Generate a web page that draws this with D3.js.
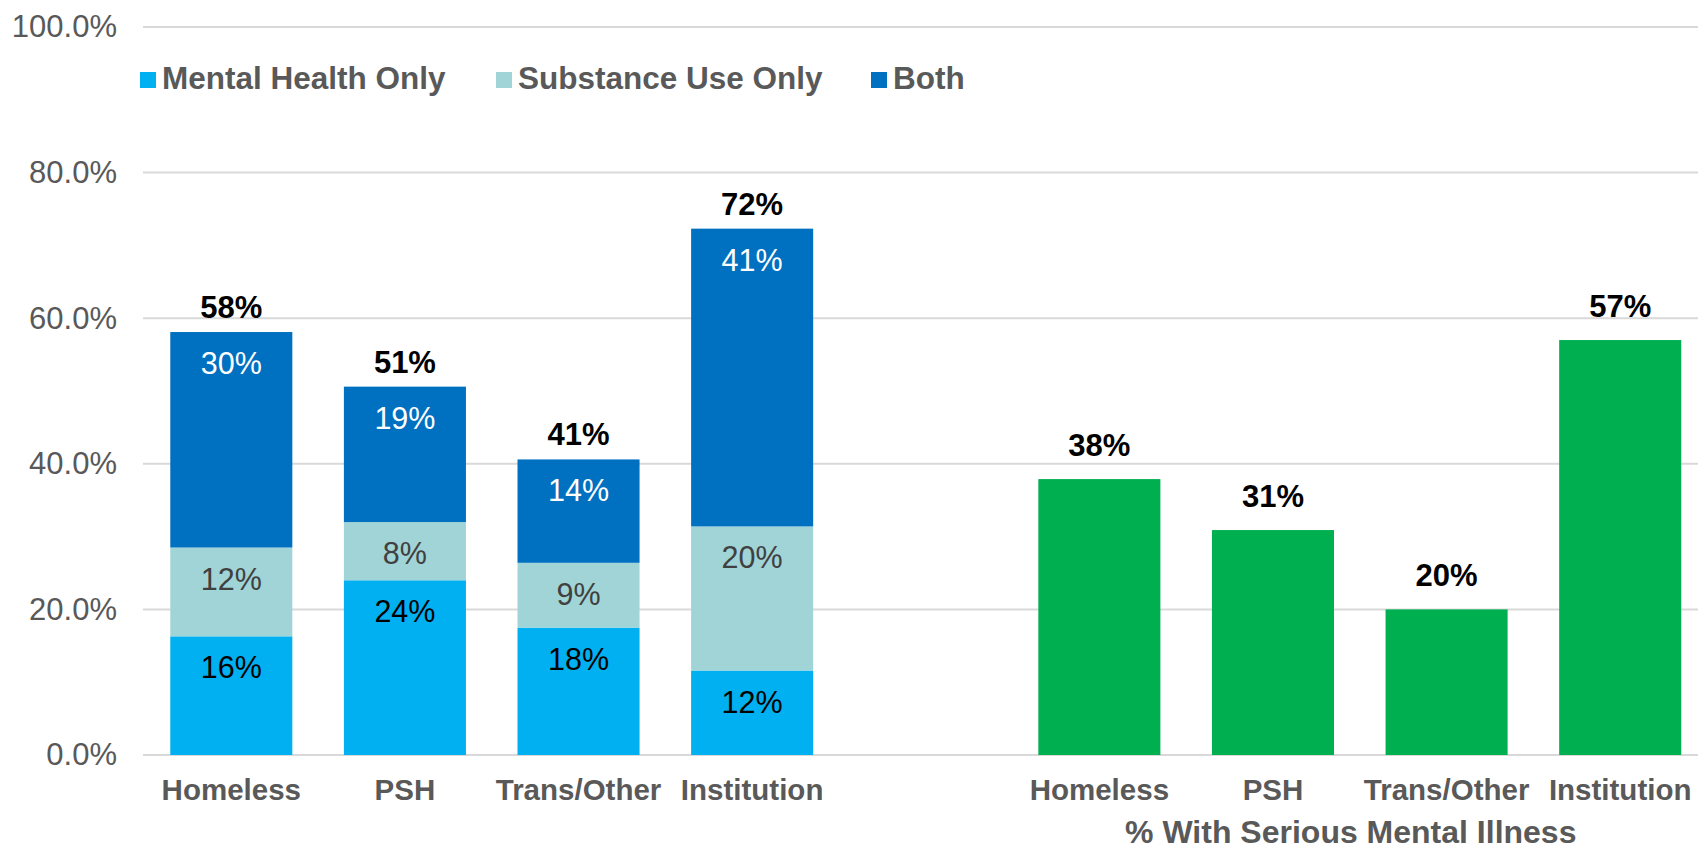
<!DOCTYPE html>
<html>
<head>
<meta charset="utf-8">
<script src="https://cdn.jsdelivr.net/npm/d3@7"></script>
<style>
  html, body { margin: 0; padding: 0; background: #fff; }
  svg { display: block; font-family: "Liberation Sans", Arial, sans-serif; }
</style>
</head>
<body>
<svg id="chart" width="1698" height="851"></svg>
<script>
// ---- Data ----
const categories = ["Homeless", "PSH", "Trans/Other", "Institution"];
const mentalHealthOnly = [0.163, 0.240, 0.175, 0.116];
const substanceUseOnly = [0.122, 0.080, 0.089, 0.198];
const both = [0.296, 0.186, 0.142, 0.409];
const seriousMentalIllness = [0.379, 0.309, 0.200, 0.570];
const seriesNames = ["Mental Health Only", "Substance Use Only", "Both"];
const yTicks = [0, 0.2, 0.4, 0.6, 0.8, 1.0];
const smiTitle = "% With Serious Mental Illness";

// ---- Setup ----
const svg = d3.select("#chart");
const W = 1698, H = 851;
const colors = { mh: "#00B0F0", su: "#A0D4D7", both: "#0070C0", smi: "#00B050" };
const labelColors = ["#000000", "#404040", "#FFFFFF"];

const slots = [...categories.map(c => "L_" + c), "gap", ...categories.map(c => "R_" + c)];
const x = d3.scaleBand().domain(slots).range([144.5, 1707]).paddingInner(0.297).paddingOuter(0.1485);
const y = d3.scaleLinear().domain([0, 1]).range([755, 27]);

// gridlines
svg.append("g").selectAll("line").data(yTicks).join("line")
  .attr("x1", 143).attr("x2", W)
  .attr("y1", d => y(d)).attr("y2", d => y(d))
  .attr("stroke", "#D9D9D9").attr("stroke-width", 2);

// y axis labels
const yAxis = d3.axisLeft(y).tickValues(yTicks).tickFormat(d3.format(".1%")).tickSize(0).tickPadding(0);
const yg = svg.append("g").attr("transform", "translate(117,0)").call(yAxis);
yg.select(".domain").remove();
yg.selectAll("text").attr("font-size", 31).attr("fill", "#595959")
  .attr("font-family", "'Liberation Sans', Arial, sans-serif");

// stacked data
const stackRows = categories.map((c, i) => ({ cat: c, mh: mentalHealthOnly[i], su: substanceUseOnly[i], both: both[i] }));
const stack = d3.stack().keys(["mh", "su", "both"]);
const stacked = stack(stackRows);

const gStack = svg.append("g");
stacked.forEach((layer, li) => {
  gStack.append("g").selectAll("rect").data(layer).join("rect")
    .attr("x", d => x("L_" + d.data.cat))
    .attr("width", x.bandwidth())
    .attr("y", d => y(d[1]))
    .attr("height", d => y(d[0]) - y(d[1]))
    .attr("fill", colors[layer.key]);
  gStack.append("g").selectAll("text").data(layer).join("text")
    .attr("x", d => x("L_" + d.data.cat) + x.bandwidth() / 2)
    .attr("y", d => y(d[1]) + 42)
    .attr("text-anchor", "middle")
    .attr("font-size", 30.5)
    .attr("fill", labelColors[li])
    .text(d => d3.format(".0%")(d[1] - d[0]));
});

// totals
svg.append("g").selectAll("text").data(stackRows).join("text")
  .attr("x", d => x("L_" + d.cat) + x.bandwidth() / 2)
  .attr("y", d => y(d.mh + d.su + d.both) - 14)
  .attr("text-anchor", "middle")
  .attr("font-size", 31).attr("font-weight", "bold").attr("fill", "#000")
  .text(d => d3.format(".0%")(d.mh + d.su + d.both));

// SMI bars
const smiRows = categories.map((c, i) => ({ cat: c, v: seriousMentalIllness[i] }));
svg.append("g").selectAll("rect").data(smiRows).join("rect")
  .attr("x", d => x("R_" + d.cat))
  .attr("width", x.bandwidth())
  .attr("y", d => y(d.v))
  .attr("height", d => y(0) - y(d.v))
  .attr("fill", colors.smi);
svg.append("g").selectAll("text").data(smiRows).join("text")
  .attr("x", d => x("R_" + d.cat) + x.bandwidth() / 2)
  .attr("y", d => y(d.v) - 23)
  .attr("text-anchor", "middle")
  .attr("font-size", 31).attr("font-weight", "bold").attr("fill", "#000")
  .text(d => d3.format(".0%")(d.v));

// category labels
svg.append("g").selectAll("text").data(slots.filter(s => s !== "gap")).join("text")
  .attr("x", d => x(d) + x.bandwidth() / 2)
  .attr("y", 800)
  .attr("text-anchor", "middle")
  .attr("font-size", 29.5).attr("font-weight", "bold").attr("fill", "#595959")
  .text(d => d.slice(2));

// SMI group title
const rightCenter = (x("R_" + categories[0]) + x("R_" + categories[3]) + x.bandwidth()) / 2;
svg.append("text")
  .attr("x", rightCenter - 9).attr("y", 843)
  .attr("text-anchor", "middle")
  .attr("font-size", 32).attr("font-weight", "bold").attr("fill", "#595959")
  .text(smiTitle);

// legend
const legendX = [140, 496, 871];
const legendColors = [colors.mh, colors.su, colors.both];
const lg = svg.append("g").selectAll("g").data(seriesNames).join("g")
  .attr("transform", (d, i) => `translate(${legendX[i]},0)`);
lg.append("rect").attr("x", 0).attr("y", 72).attr("width", 16).attr("height", 16)
  .attr("fill", (d, i) => legendColors[i]);
lg.append("text").attr("x", 22).attr("y", 88.5)
  .attr("font-size", 31.5).attr("font-weight", "bold").attr("fill", "#595959")
  .text(d => d);
</script>
</body>
</html>
